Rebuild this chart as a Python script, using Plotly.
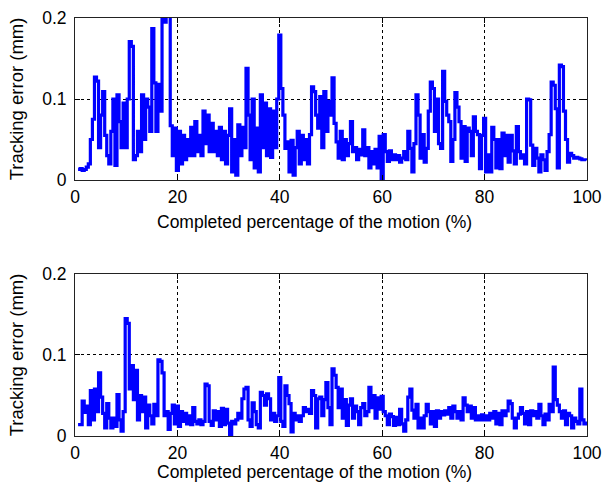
import numpy as np
import plotly.graph_objects as go

# sampling positions (% of motion): 0.6, 1.0, ... every 0.4
x_start = 0.6
x_step = 0.4

top_error = [
    0.013, 0.014, 0.012, 0.013, 0.016,
    0.020, 0.050, 0.075, 0.127, 0.122,
    0.040, 0.080, 0.109, 0.055, 0.030,
    0.020, 0.060, 0.100, 0.018, 0.105,
    0.072, 0.040, 0.095, 0.040, 0.100,
    0.171, 0.165, 0.025, 0.030, 0.060,
    0.035, 0.105, 0.050, 0.100, 0.090,
    0.060, 0.187, 0.120, 0.060, 0.118,
    0.085, 0.220, 0.195, 0.230, 0.210,
    0.067, 0.030, 0.064, 0.012, 0.060,
    0.020, 0.055, 0.025, 0.050, 0.030,
    0.065, 0.030, 0.072, 0.035, 0.055,
    0.030, 0.085, 0.045, 0.080, 0.035,
    0.070, 0.035, 0.060, 0.030, 0.065,
    0.025, 0.060, 0.020, 0.055, 0.088,
    0.010, 0.050, 0.006, 0.068, 0.030,
    0.065, 0.040, 0.138, 0.080, 0.025,
    0.100, 0.015, 0.064, 0.010, 0.105,
    0.040, 0.095, 0.030, 0.088, 0.028,
    0.085, 0.040, 0.100, 0.179, 0.113,
    0.080, 0.039, 0.047, 0.010, 0.049,
    0.006, 0.040, 0.060, 0.020, 0.055,
    0.025, 0.050, 0.020, 0.056, 0.115,
    0.109, 0.080, 0.064, 0.103, 0.040,
    0.109, 0.060, 0.097, 0.080, 0.126,
    0.070, 0.047, 0.027, 0.060, 0.025,
    0.050, 0.030, 0.045, 0.072, 0.035,
    0.040, 0.025, 0.038, 0.031, 0.062,
    0.030, 0.040, 0.015, 0.035, 0.020,
    0.038, 0.015, 0.054, 0.002, 0.056,
    0.035, 0.023, 0.036, 0.025, 0.031,
    0.025, 0.030, 0.022, 0.027, 0.035,
    0.025, 0.060, 0.039, 0.010, 0.045,
    0.105, 0.080, 0.027, 0.056, 0.022,
    0.039, 0.085, 0.121, 0.113, 0.060,
    0.100, 0.045, 0.039, 0.134, 0.097,
    0.080, 0.072, 0.023, 0.050, 0.108,
    0.090, 0.072, 0.027, 0.066, 0.023,
    0.064, 0.060, 0.030, 0.078, 0.060,
    0.056, 0.014, 0.055, 0.076, 0.010,
    0.031, 0.010, 0.065, 0.050, 0.015,
    0.050, 0.014, 0.058, 0.030, 0.055,
    0.022, 0.055, 0.036, 0.020, 0.066,
    0.035, 0.027, 0.031, 0.020, 0.100,
    0.099, 0.043, 0.018, 0.039, 0.027,
    0.010, 0.031, 0.025, 0.012, 0.035,
    0.056, 0.121, 0.117, 0.088, 0.015,
    0.142, 0.140, 0.085, 0.050, 0.022,
    0.033, 0.030, 0.027, 0.028, 0.027,
    0.026, 0.025, 0.025, 0.024,
]

bottom_error = [
    0.014, 0.014, 0.043, 0.029, 0.037,
    0.014, 0.056, 0.020, 0.058, 0.030,
    0.078, 0.048, 0.028, 0.010, 0.040,
    0.022, 0.010, 0.022, 0.012, 0.051,
    0.020, 0.006, 0.030, 0.145, 0.139,
    0.058, 0.087, 0.045, 0.081, 0.020,
    0.050, 0.030, 0.048, 0.010, 0.038,
    0.025, 0.015, 0.039, 0.025, 0.094,
    0.092, 0.078, 0.025, 0.030, 0.008,
    0.028, 0.038, 0.015, 0.037, 0.012,
    0.030, 0.018, 0.028, 0.015, 0.025,
    0.014, 0.035, 0.018, 0.015, 0.020,
    0.014, 0.018, 0.064, 0.062, 0.018,
    0.013, 0.031, 0.020, 0.030, 0.012,
    0.034, 0.014, 0.033, 0.016, 0.002,
    0.018, 0.015, 0.020, 0.028, 0.022,
    0.046, 0.058, 0.060, 0.020, 0.012,
    0.041, 0.030, 0.014, 0.010, 0.054,
    0.050, 0.038, 0.052, 0.046, 0.020,
    0.028, 0.018, 0.025, 0.072, 0.018,
    0.012, 0.062, 0.050, 0.040, 0.005,
    0.028, 0.020, 0.025, 0.018, 0.025,
    0.035, 0.030, 0.033, 0.028, 0.056,
    0.050, 0.010, 0.046, 0.048, 0.025,
    0.045, 0.066, 0.035, 0.014, 0.083,
    0.075, 0.060, 0.035, 0.058, 0.022,
    0.045, 0.013, 0.038, 0.046, 0.022,
    0.037, 0.030, 0.014, 0.035, 0.040,
    0.025, 0.030, 0.060, 0.035, 0.050,
    0.022, 0.047, 0.033, 0.049, 0.030,
    0.025, 0.014, 0.027, 0.024, 0.013,
    0.023, 0.014, 0.033, 0.015, 0.006,
    0.020, 0.048, 0.058, 0.032, 0.022,
    0.039, 0.010, 0.022, 0.010, 0.025,
    0.039, 0.030, 0.015, 0.030, 0.012,
    0.031, 0.022, 0.030, 0.026, 0.031,
    0.027, 0.035, 0.022, 0.037, 0.030,
    0.022, 0.030, 0.020, 0.047, 0.038,
    0.030, 0.037, 0.022, 0.035, 0.020,
    0.025, 0.020, 0.026, 0.020, 0.025,
    0.020, 0.028, 0.022, 0.030, 0.015,
    0.028, 0.014, 0.031, 0.025, 0.031,
    0.043, 0.040, 0.022, 0.010, 0.022,
    0.027, 0.035, 0.028, 0.015, 0.030,
    0.014, 0.031, 0.025, 0.030, 0.022,
    0.039, 0.025, 0.014, 0.027, 0.020,
    0.039, 0.030, 0.085, 0.045, 0.038,
    0.030, 0.022, 0.031, 0.014, 0.028,
    0.025, 0.010, 0.022, 0.018, 0.015,
    0.058, 0.020, 0.015, 0.018,
]

x_ticks = [0, 20, 40, 60, 80, 100]
y_ticks = [0, 0.1, 0.2]
y_tick_text = ["0", "0.1", "0.2"]
x_title = "Completed percentage of the motion (%)"
y_title = "Tracking error (mm)"

x_top = x_start + x_step * np.arange(len(top_error))
x_bot = x_start + x_step * np.arange(len(bottom_error))

FONT = "Arial, Liberation Sans, sans-serif"
FS = 17.5
fig = go.Figure()
fig.add_trace(go.Scatter(x=x_top, y=top_error, mode="lines", line_shape="hv",
                         line=dict(color="#0000ff", width=3.2), xaxis="x", yaxis="y",
                         showlegend=False))
fig.add_trace(go.Scatter(x=x_bot, y=bottom_error, mode="lines", line_shape="hv",
                         line=dict(color="#0000ff", width=3.2), xaxis="x2", yaxis="y2",
                         showlegend=False))

def xax(anchor):
    return dict(range=[0, 100], tickvals=x_ticks, ticks="inside", ticklen=5,
                tickcolor="black", showline=True, linecolor="#222", linewidth=1,
                mirror="ticks", showgrid=True, gridcolor="black", gridwidth=1,
                griddash="3px,3px", zeroline=False, anchor=anchor, domain=[0, 1],
                automargin=False, ticklabelstandoff=1,
                tickfont=dict(size=FS, color="black", family=FONT))

def yax(domain, anchor):
    return dict(range=[0, 0.2], tickvals=y_ticks, ticktext=y_tick_text,
                ticks="inside", ticklen=5, tickcolor="black", showline=True,
                linecolor="#222", linewidth=1, mirror="ticks", showgrid=True,
                gridcolor="black", gridwidth=1, griddash="3px,3px", zeroline=False,
                domain=domain, anchor=anchor, automargin=False, ticklabelstandoff=4,
                title=dict(text=y_title, font=dict(size=18.5, color="black", family=FONT), standoff=13),
                tickfont=dict(size=FS, color="black", family=FONT))

fig.update_layout(
    width=603, height=489,
    margin=dict(l=75, r=16, t=18, b=53),
    paper_bgcolor="white", plot_bgcolor="white",
    xaxis=xax("y"), yaxis=yax([0.6124, 1.0], "x"),
    xaxis2=xax("y2"), yaxis2=yax([0.0, 0.3876], "x2"),
    font=dict(family=FONT, color="black"),
)

# x-axis titles (slightly left of the axes centre, as in the original)
for ypix in (222, 472):
    fig.add_annotation(text=x_title, xref="paper", yref="paper",
                       x=(314 - 75) / 512, y=(436 - ypix) / 418,
                       xanchor="center", yanchor="middle", showarrow=False,
                       font=dict(size=FS, color="black", family=FONT))

fig.write_html("out.html")
